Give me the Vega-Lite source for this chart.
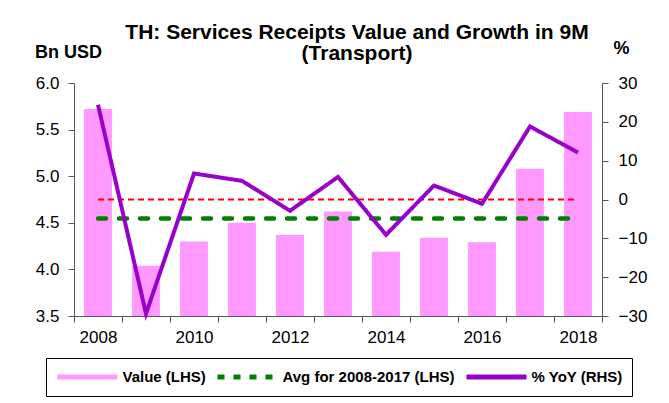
{
  "$schema": "https://vega.github.io/schema/vega-lite/v6.json",
  "width": 528,
  "height": 233,
  "autosize": {"type": "none"},
  "padding": {"left": 74, "top": 83, "right": 67, "bottom": 87},
  "background": "white",
  "title": {
    "text": ["TH: Services Receipts Value and Growth in 9M", "(Transport)"],
    "fontSize": 21,
    "fontWeight": "bold",
    "font": "Liberation Sans",
    "color": "#000",
    "anchor": "middle",
    "dx": 19,
    "offset": -25,
    "lineHeight": 21
  },
  "datasets": {
    "main": [
      {"year": "2008", "value": 5.72, "yoy": 24.4},
      {"year": "2009", "value": 4.04, "yoy": -29.4},
      {"year": "2010", "value": 4.30, "yoy": 6.7},
      {"year": "2011", "value": 4.50, "yoy": 4.8},
      {"year": "2012", "value": 4.37, "yoy": -2.9},
      {"year": "2013", "value": 4.62, "yoy": 5.8},
      {"year": "2014", "value": 4.19, "yoy": -9.1},
      {"year": "2015", "value": 4.34, "yoy": 3.6},
      {"year": "2016", "value": 4.29, "yoy": -1.1},
      {"year": "2017", "value": 5.08, "yoy": 18.8},
      {"year": "2018", "value": 5.69, "yoy": 12.1}
    ],
    "avg": [
      {"year": "2008", "value": 4.545},
      {"year": "2018", "value": 4.545}
    ],
    "zero": [
      {"year": "2008", "yoy": 0},
      {"year": "2018", "yoy": 0}
    ]
  },
  "encoding": {
    "x": {
      "field": "year",
      "type": "ordinal",
      "scale": {"domain": ["2008","2009","2010","2011","2012","2013","2014","2015","2016","2017","2018"], "paddingInner": 0, "paddingOuter": 0},
      "axis": {
        "title": null,
        "labelAngle": 0,
        "tickBand": "extent",
        "labelExpr": "toNumber(datum.value) % 2 == 0 ? datum.value : ''",
        "labelPadding": 7
      }
    }
  },
  "layer": [
    {
      "encoding": {
        "y": {
          "field": "value",
          "type": "quantitative",
          "scale": {"domain": [3.5, 6], "zero": false, "nice": false},
          "axis": {
            "title": "Bn USD",
            "values": [3.5, 4, 4.5, 5, 5.5, 6],
            "format": ".1f",
            "orient": "left",
            "labelPadding": 9,
            "titleAngle": 0,
            "titleAlign": "center",
            "titleBaseline": "alphabetic",
            "titleX": -6,
            "titleY": -26
          }
        }
      },
      "layer": [
        {
          "data": {"name": "main"},
          "mark": {"type": "bar", "width": {"band": 0.58}, "clip": true},
          "encoding": {
            "color": {
              "datum": "Value (LHS)",
              "scale": {
                "domain": ["Value (LHS)", "Avg for 2008-2017 (LHS)", "% YoY (RHS)"],
                "range": ["#FF99FF", "#008000", "#9900CC"]
              },
              "legend": {
                "title": null,
                "orient": "none",
                "legendX": -28,
                "legendY": 275,
                "direction": "horizontal",
                "symbolType": "M-4,0H4",
                "symbolSize": 225,
                "symbolOffset": 22.5,
                "symbolStrokeWidth": 5,
                "labelFont": "Liberation Sans",
                "labelFontSize": 15,
                "labelFontWeight": "bold",
                "labelColor": "#000",
                "labelOffset": 25,
                "labelLimit": 400,
                "columnPadding": 1,
                "padding": 9,
                "strokeColor": "#000",
                "fillColor": "white"
              }
            },
            "strokeDash": {
              "datum": "Value (LHS)",
              "scale": {
                "domain": ["Value (LHS)", "Avg for 2008-2017 (LHS)", "% YoY (RHS)"],
                "range": [[1, 0], [7, 9], [1, 0]]
              },
              "legend": {
                "title": null,
                "orient": "none",
                "legendX": -28,
                "legendY": 275,
                "direction": "horizontal",
                "symbolType": "M-4,0H4",
                "symbolSize": 225,
                "symbolOffset": 22.5,
                "symbolStrokeWidth": 5,
                "labelFont": "Liberation Sans",
                "labelFontSize": 15,
                "labelFontWeight": "bold",
                "labelColor": "#000",
                "labelOffset": 25,
                "labelLimit": 400,
                "columnPadding": 1,
                "padding": 9,
                "strokeColor": "#000",
                "fillColor": "white"
              }
            }
          }
        },
        {
          "data": {"name": "avg"},
          "mark": {"type": "line", "strokeWidth": 4.5, "strokeCap": "round", "strokeDash": [8, 13]},
          "encoding": {
            "color": {"datum": "Avg for 2008-2017 (LHS)"}
          }
        }
      ]
    },
    {
      "encoding": {
        "y": {
          "field": "yoy",
          "type": "quantitative",
          "scale": {"domain": [-30, 30], "nice": false},
          "axis": {
            "title": "%",
            "orient": "right",
            "values": [-30, -20, -10, 0, 10, 20, 30],
            "labelPadding": 10,
            "titleAngle": 0,
            "titleAlign": "center",
            "titleBaseline": "alphabetic",
            "titleX": 19,
            "titleY": -30
          }
        }
      },
      "layer": [
        {
          "data": {"name": "zero"},
          "mark": {"type": "line", "color": "#FF0000", "strokeWidth": 2, "strokeDash": [6, 4]},
          "encoding": {}
        },
        {
          "data": {"name": "main"},
          "mark": {"type": "line", "strokeWidth": 4, "strokeJoin": "miter"},
          "encoding": {
            "color": {"datum": "% YoY (RHS)"},
            "strokeDash": {"datum": "% YoY (RHS)"}
          }
        }
      ]
    }
  ],
  "resolve": {"scale": {"y": "independent"}},
  "config": {
    "font": "Liberation Sans",
    "view": {"stroke": null},
    "axis": {
      "grid": false,
      "domainColor": "#555",
      "tickColor": "#555",
      "tickSize": 6,
      "labelFont": "Liberation Sans",
      "labelFontSize": 17,
      "labelColor": "#000",
      "titleFont": "Liberation Sans",
      "titleFontSize": 18,
      "titleFontWeight": "bold",
      "titleColor": "#000"
    }
  }
}
